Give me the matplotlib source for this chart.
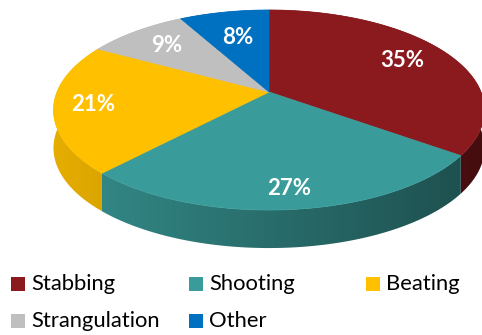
import numpy as np
import matplotlib.pyplot as plt
from matplotlib.patches import Polygon, Rectangle
from matplotlib.colors import to_rgb

labels = ['Stabbing', 'Shooting', 'Beating', 'Strangulation', 'Other']
shares = [35, 27, 21, 9, 8]
colors = ['#8B1A1E', '#3A9C9A', '#FFC000', '#BFBFBF', '#0070C0']

# pie geometry in pixel units
cx, cy = 269, 92          # centre of the top face
rx, ry = 212, 96.8        # horizontal / depth radius
persp = 0.18              # perspective shrink toward the back
depth = 38                # thickness of the pie
label_r = [0.75, 0.85, 0.82, 0.75, 0.65]


def project(theta, r=1.0):
    # theta in degrees, clockwise from 12 o'clock
    t = np.radians(theta)
    u = r * np.sin(t)
    v = r * np.cos(t)
    d = 1 + persp * v
    return cx + rx * u / d, cy - ry * v / d


fig = plt.figure(figsize=(4.82, 3.35), dpi=100)
ax = fig.add_axes([0, 0, 1, 1])
ax.set_xlim(0, 482)
ax.set_ylim(335, 0)
ax.axis('off')

angles = np.concatenate([[0], np.cumsum(shares) / sum(shares) * 360])

# side walls: one polygon per slice, filled with a left-to-right shading
xg = np.linspace(0, 482, 483)
shade = np.clip(0.70 - 0.2 * (xg - cx) / rx, 0.4, 0.95)
for i, col in enumerate(colors):
    ts = np.linspace(angles[i], angles[i + 1], 200)
    xs, ys = project(ts)
    pts = list(zip(xs, ys)) + list(zip(xs[::-1], ys[::-1] + depth))
    wall = Polygon(pts, closed=True, facecolor='none', edgecolor='none')
    ax.add_patch(wall)
    img = np.array(to_rgb(col))[None, None, :] * shade[None, :, None]
    im = ax.imshow(img, extent=(0, 482, 335, 0), aspect='auto',
                   interpolation='bilinear', zorder=1)
    im.set_clip_path(wall)

# top faces
for i, col in enumerate(colors):
    ts = np.linspace(angles[i], angles[i + 1], 200)
    xs, ys = project(ts)
    pts = [(cx, cy)] + list(zip(xs, ys))
    ax.add_patch(Polygon(pts, closed=True, facecolor=col, edgecolor=col,
                         lw=0.5, zorder=2))

ax.set_xlim(0, 482)
ax.set_ylim(335, 0)

# percentage labels
for i, s in enumerate(shares):
    mid = (angles[i] + angles[i + 1]) / 2
    lx, ly = project(mid, label_r[i])
    ax.text(lx, ly, f'{s}%', color='white', fontsize=16, fontweight='bold',
            family='Lato', ha='center', va='center', zorder=3)

# legend
leg_pos = [(11, 284), (189, 284), (366, 284), (11, 321), (189, 321)]
for (lx, ly), name, col in zip(leg_pos, labels, colors):
    ax.add_patch(Rectangle((lx, ly - 7), 14, 14, facecolor=col, edgecolor='none'))
    ax.text(lx + 20, ly, name, color='black', fontsize=15.8, family='Lato',
            ha='left', va='center')

fig.savefig('out.png', dpi=100)
